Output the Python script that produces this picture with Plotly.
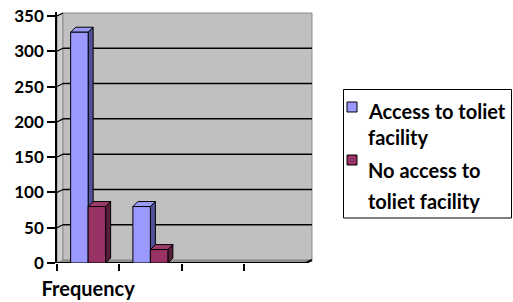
import plotly.graph_objects as go

# ---- data ----
categories = ["Frequency"]
group_positions = [0, 1]            # two bar groups along the category axis
series_names = ["Access to toliet facility", "No access to toliet facility"]
legend_lines = [["Access to toliet", "facility"], ["No access to", "toliet facility"]]
access_values = [327, 80]
no_access_values = [80, 19]
y_ticks = [0, 50, 100, 150, 200, 250, 300, 350]

# ---- styles ----
front_colors = ["#9999ff", "#993366"]
top_colors = ["#9a9af5", "#9c3a6c"]
side_colors = ["#52529a", "#5a1d3b"]
FONT = "Lato"

# plot geometry (pixels)
W, H = 513, 302
L, R, T, B = 57, 314, 12, 263
FRONT_R = 306                      # right end of front axis line
x_min = -0.5
x_front_max = 3.5
ppx = (FRONT_R - L) / (x_front_max - x_min)     # px per x unit
ppy = (B - 16) / 350.0                          # px per y unit
x_max = x_min + (R - L) / ppx
y_max = (B - T) / ppy

wall_dx, wall_dy = 6 / ppx, 3 / ppy   # depth of back wall
bar_dx, bar_dy = 5 / ppx, 5 / ppy     # depth of bars
bar_w = 17.5 / ppx

series_values = [access_values, no_access_values]
offsets = [-bar_w, 0.0]

def poly(pts):
    return "M " + " L ".join(f"{x},{y}" for x, y in pts) + " Z"

shapes = []
# left side wall
shapes.append(dict(type="path", xref="x", yref="y", layer="below",
                   path=poly([(x_min, 0), (x_min, 350), (x_min + wall_dx, 350 + wall_dy), (x_min + wall_dx, wall_dy)]),
                   fillcolor="#cfcfcf", line=dict(color="#8a8a8a", width=1)))
# back wall
shapes.append(dict(type="rect", xref="x", yref="y", layer="below",
                   x0=x_min + wall_dx, x1=x_front_max + wall_dx, y0=wall_dy, y1=350 + wall_dy,
                   fillcolor="#c0c0c0", line=dict(color="#8a8a8a", width=1)))
# floor
shapes.append(dict(type="path", xref="x", yref="y", layer="below",
                   path=poly([(x_min, 0), (x_front_max, 0), (x_front_max + wall_dx, wall_dy), (x_min + wall_dx, wall_dy)]),
                   fillcolor="#8f8f8f", line=dict(color="#8f8f8f", width=0.5)))
# gridlines on back wall + side wall diagonals
for v in y_ticks[1:-1]:
    shapes.append(dict(type="line", xref="x", yref="y", layer="below",
                       x0=x_min + wall_dx, x1=x_front_max + wall_dx, y0=v + wall_dy, y1=v + wall_dy,
                       line=dict(color="black", width=1.5)))
for v in y_ticks[1:]:
    shapes.append(dict(type="line", xref="x", yref="y", layer="below",
                       x0=x_min, x1=x_min + wall_dx, y0=v, y1=v + wall_dy,
                       line=dict(color="black", width=1.2)))
# front floor edge (x axis line) and right slant
shapes.append(dict(type="line", xref="x", yref="y", layer="below",
                   x0=x_min, x1=x_front_max, y0=0, y1=0, line=dict(color="black", width=2)))
shapes.append(dict(type="line", xref="x", yref="y", layer="below",
                   x0=x_front_max, x1=x_front_max + wall_dx, y0=0, y1=wall_dy, line=dict(color="black", width=2)))

# 3D side/top faces of bars
for g, gx in enumerate(group_positions):
    for s in range(2):
        v = series_values[s][g]
        x0 = gx + offsets[s]
        x1 = x0 + bar_w
        shapes.append(dict(type="path", xref="x", yref="y", layer="below",
                           path=poly([(x1, 0), (x1, v), (x1 + bar_dx, v + bar_dy), (x1 + bar_dx, bar_dy)]),
                           fillcolor=side_colors[s], line=dict(color="black", width=1)))
        shapes.append(dict(type="path", xref="x", yref="y", layer="below",
                           path=poly([(x0, v), (x1, v), (x1 + bar_dx, v + bar_dy), (x0 + bar_dx, v + bar_dy)]),
                           fillcolor=top_colors[s], line=dict(color="black", width=1)))

fig = go.Figure()
for s in range(2):
    fig.add_trace(go.Bar(
        x=group_positions, y=series_values[s], name=series_names[s],
        width=bar_w, offset=offsets[s],
        marker=dict(color=front_colors[s], line=dict(color="black", width=1)),
        showlegend=False, hoverinfo="skip"))

# manual legend (pixel -> paper)
def px_x(px):
    return (px - L) / (R - L)

def px_y(py):
    return (B - py) / (B - T)

shapes.append(dict(type="rect", xref="paper", yref="paper",
                   x0=px_x(343.5), x1=px_x(511.5), y0=px_y(89.5), y1=px_y(218),
                   line=dict(color="black", width=1), fillcolor="white", layer="above"))
square_tops = [102, 155]
line_centers = [[111, 137], [170, 200.5]]
annotations = []
for s in range(2):
    shapes.append(dict(type="rect", xref="paper", yref="paper",
                       x0=px_x(347), x1=px_x(357), y0=px_y(square_tops[s]), y1=px_y(square_tops[s] + 10),
                       line=dict(color="black", width=1), fillcolor=front_colors[s], layer="above"))
    for txt, cy in zip(legend_lines[s], line_centers[s]):
        annotations.append(dict(xref="paper", yref="paper", x=px_x(366), y=px_y(cy),
                                xanchor="left", yanchor="middle", showarrow=False, text=txt,
                                font=dict(family=FONT, size=20, color="black", weight="bold")))

fig.update_layout(
    template="none",
    width=W, height=H, autosize=False,
    margin=dict(l=L, r=W - R, t=T, b=H - B, pad=0),
    paper_bgcolor="white", plot_bgcolor="rgba(0,0,0,0)",
    barmode="overlay", showlegend=False,
    shapes=shapes, annotations=annotations,
    font=dict(family=FONT, size=18, color="black", weight="bold"),
    xaxis=dict(range=[x_min, x_max], tickvals=[0], ticktext=categories, automargin=False,
               ticks="", showgrid=False, zeroline=False, showline=False,
               ticklabelstandoff=12,
               tickfont=dict(family=FONT, size=20, color="black", weight="bold"),
               minor=dict(tickmode="array", tickvals=[-0.5, 0.5, 1.5, 2.5], ticks="outside",
                          ticklen=7, tickwidth=1.5, tickcolor="black", showgrid=False)),
    yaxis=dict(range=[0, y_max], tickvals=y_ticks, ticks="outside", ticklen=8, tickwidth=1.5,
               tickcolor="black", showline=True, linecolor="black", linewidth=1.5,
               showgrid=False, zeroline=False, ticklabelstandoff=0, automargin=False,
               tickfont=dict(family=FONT, size=17, color="black", weight="bold")),
)

fig.write_html("out.html", config={"displayModeBar": False},
               post_script="document.body.style.margin='0';")
